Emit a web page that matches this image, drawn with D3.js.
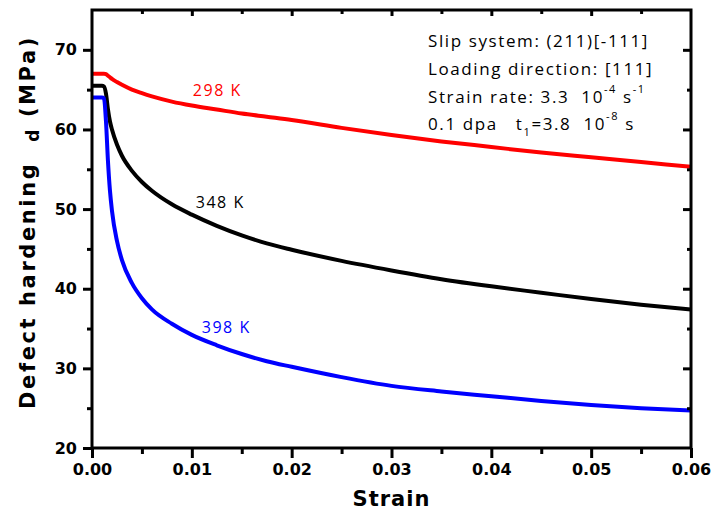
<!DOCTYPE html>
<html>
<head>
<meta charset="utf-8">
<script src="https://cdn.jsdelivr.net/npm/d3@7"></script>
<style>
  body { margin: 0; background: #fff; }
  svg { display: block; }
  .tick text { font-family: "DejaVu Sans", sans-serif; font-weight: bold; font-size: 16px; }
</style>
</head>
<body>
<div id="chart"></div>
<script>
/* strain values shared by all three curves */
const strain = [0, 0.0005, 0.001, 0.0012, 0.0014, 0.0016, 0.0018, 0.002, 0.0025, 0.003,
    0.004, 0.005, 0.006, 0.008, 0.01, 0.0125, 0.015, 0.0175, 0.02, 0.025, 0.03,
    0.035, 0.04, 0.045, 0.05, 0.055, 0.06];

/* defect hardening (MPa) for each temperature */
const hard298 = [67, 67, 67, 67, 66.95, 66.75, 66.55, 66.35, 65.95, 65.6,
    65.0, 64.55, 64.15, 63.5, 63.0, 62.5, 62.0, 61.6, 61.2, 60.2, 59.3,
    58.5, 57.8, 57.1, 56.5, 55.9, 55.3];
const hard348 = [65.5, 65.5, 65.5, 65.4, 64.5, 62.5, 61.0, 60.0, 58.1, 56.7,
    54.8, 53.4, 52.3, 50.6, 49.3, 47.9, 46.7, 45.7, 44.9, 43.5, 42.3,
    41.2, 40.3, 39.5, 38.7, 38.0, 37.4];
const hard398 = [64, 64, 64, 63.9, 61.0, 56.0, 52.3, 49.8, 46.0, 43.6,
    40.7, 38.8, 37.4, 35.6, 34.2, 32.9, 31.8, 30.9, 30.2, 28.9, 27.8,
    27.1, 26.5, 25.9, 25.4, 25.0, 24.7];

const seriesNames = ["298 K", "348 K", "398 K"];
const seriesColors = ["#ff0000", "#000000", "#0000ff"];
/* label anchor (strain, MPa) of each series name */
const labelStrain = [0.0101, 0.0104, 0.011];
const labelValue = [64.2, 50.1, 34.4];

const xMajor = [0, 0.01, 0.02, 0.03, 0.04, 0.05, 0.06];
const xMinor = [0.005, 0.015, 0.025, 0.035, 0.045, 0.055];
const yMajor = [20, 30, 40, 50, 60, 70];
const yMinor = [25, 35, 45, 55, 65];

/* annotation lines: text, then shift of the baseline (sup < 0, sub > 0) */
const notes = [
    [["Slip system: (211)[-111]", 0]],
    [["Loading direction: [111]", 0]],
    [["Strain rate: 3.3  10", 0], ["-4", -10], [" s", 0], ["-1", -10]],
    [["0.1 dpa   t", 0], ["1", 6], ["=3.8  10", 0], ["-8", -10], [" s", 0]]
];

const width = 712, height = 515;
const mLeft = 92, mRight = 691, mTop = 10, mBottom = 448;

const svg = d3.select("#chart").append("svg")
    .attr("width", width)
    .attr("height", height);

const x = d3.scaleLinear().domain([0, 0.06]).range([mLeft, mRight]);
const y = d3.scaleLinear().domain([20, 75]).range([mBottom, mTop]);

/* curves */
svg.append("clipPath").attr("id", "plot")
    .append("rect").attr("x", mLeft).attr("y", mTop)
    .attr("width", mRight - mLeft).attr("height", mBottom - mTop);

const line = d3.line()
    .x(d => x(d[0]))
    .y(d => y(d[1]))
    .curve(d3.curveMonotoneX);

[hard298, hard348, hard398].forEach(function(vals, i) {
    svg.append("path")
        .datum(strain.map((s, j) => [s, vals[j]]))
        .attr("d", line)
        .attr("fill", "none")
        .attr("stroke", seriesColors[i])
        .attr("stroke-width", 4)
        .attr("clip-path", "url(#plot)");
});

/* series labels */
seriesNames.forEach(function(name, i) {
    svg.append("text")
        .attr("x", x(labelStrain[i]))
        .attr("y", y(labelValue[i]))
        .attr("fill", seriesColors[i])
        .style("font-family", "Open Sans, sans-serif")
        .style("font-size", "16px")
        .style("letter-spacing", "1.5px")
        .text(name);
});

/* axes */
function styleAxis(g) {
    g.select(".domain").remove();
    g.selectAll(".tick line").attr("stroke", "#000").attr("stroke-width", 3);
}

svg.append("g")
    .attr("transform", "translate(0," + mBottom + ")")
    .call(d3.axisBottom(x).tickValues(xMajor).tickSize(10).tickPadding(6).tickFormat(d3.format(".2f")))
    .call(styleAxis);
svg.append("g")
    .attr("transform", "translate(0," + mBottom + ")")
    .call(d3.axisBottom(x).tickValues(xMinor).tickSize(6).tickFormat(""))
    .call(styleAxis);

svg.append("g")
    .attr("transform", "translate(" + mLeft + ",0)")
    .call(d3.axisLeft(y).tickValues(yMajor).tickSize(9).tickPadding(6))
    .call(styleAxis);
svg.append("g")
    .attr("transform", "translate(" + mLeft + ",0)")
    .call(d3.axisLeft(y).tickValues(yMinor).tickSize(5).tickFormat(""))
    .call(styleAxis);

/* inward ticks on the right and top */
svg.append("g")
    .attr("transform", "translate(" + mRight + ",0)")
    .call(d3.axisLeft(y).tickValues(yMajor.slice(1)).tickSize(8).tickFormat(""))
    .call(styleAxis);
svg.append("g")
    .attr("transform", "translate(" + mRight + ",0)")
    .call(d3.axisLeft(y).tickValues(yMinor).tickSize(4).tickFormat(""))
    .call(styleAxis);
svg.append("g")
    .attr("transform", "translate(0," + mTop + ")")
    .call(d3.axisBottom(x).tickValues(xMajor.slice(1, -1)).tickSize(6).tickFormat(""))
    .call(styleAxis);
svg.append("g")
    .attr("transform", "translate(0," + mTop + ")")
    .call(d3.axisBottom(x).tickValues(xMinor).tickSize(4).tickFormat(""))
    .call(styleAxis);

/* frame */
svg.append("rect")
    .attr("x", mLeft).attr("y", mTop)
    .attr("width", mRight - mLeft).attr("height", mBottom - mTop)
    .attr("fill", "none")
    .attr("stroke", "#000")
    .attr("stroke-width", 3);

/* axis titles */
svg.append("text")
    .attr("x", (mLeft + mRight) / 2)
    .attr("y", 506)
    .attr("text-anchor", "middle")
    .style("font-family", "DejaVu Sans, sans-serif")
    .style("font-weight", "bold")
    .style("font-size", "21px")
    .style("letter-spacing", "1px")
    .text("Strain");

const yTitle = svg.append("text")
    .attr("transform", "translate(35,222) rotate(-90)")
    .attr("text-anchor", "middle")
    .style("font-family", "DejaVu Sans, sans-serif")
    .style("font-weight", "bold")
    .style("font-size", "21px")
    .style("letter-spacing", "2.6px")
    .style("white-space", "pre");
yTitle.append("tspan").text("Defect hardening  ");
yTitle.append("tspan").attr("dy", 4).style("font-size", "17px").text("d");
yTitle.append("tspan").attr("dy", -4).text(" (MPa)");

/* annotation block */
notes.forEach(function(parts, i) {
    const t = svg.append("text")
        .attr("x", 428)
        .attr("y", 47 + i * 27.8)
        .style("white-space", "pre")
        .style("font-family", "Open Sans, sans-serif")
        .style("font-size", "17px")
        .style("letter-spacing", "1.6px");
    let prev = 0;
    parts.forEach(function(p) {
        t.append("tspan")
            .attr("dy", p[1] - prev)
            .style("font-size", p[1] !== 0 ? "11px" : null)
            .text(p[0]);
        prev = p[1];
    });
});
</script>
</body>
</html>
